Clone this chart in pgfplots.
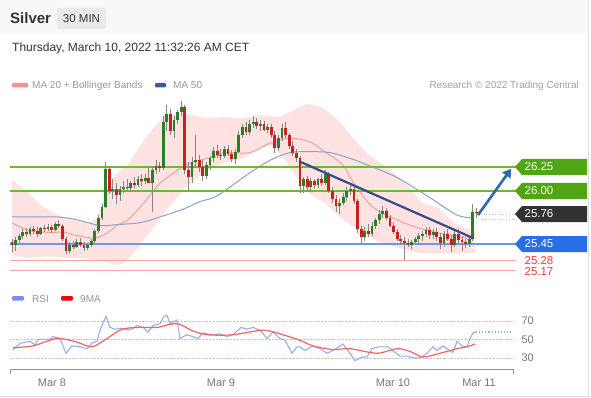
\documentclass[border=0pt]{standalone}
\usepackage{fontspec}
\setmainfont{Liberation Sans}
\usepackage{pgfplots}
\usepackage{pgfplotstable}
\pgfplotsset{compat=1.18}
\usetikzlibrary{arrows.meta}

\definecolor{txtdark}{RGB}{51,51,51}
\definecolor{txtgray}{RGB}{150,150,150}
\definecolor{ticktxt}{RGB}{120,120,120}
\definecolor{headbg}{RGB}{248,248,248}
\definecolor{chipbg}{RGB}{234,234,234}
\definecolor{bandfill}{RGB}{255,226,226}
\definecolor{ma20}{RGB}{245,160,160}
\definecolor{ma50}{RGB}{140,160,205}
\definecolor{lgreen}{RGB}{110,185,50}
\definecolor{bgreen}{RGB}{80,165,20}
\definecolor{lblue}{RGB}{110,150,240}
\definecolor{bblue}{RGB}{40,110,230}
\definecolor{lred}{RGB}{245,165,165}
\definecolor{tred}{RGB}{240,60,60}
\definecolor{bdark}{RGB}{50,50,50}
\definecolor{cgreen}{RGB}{45,125,40}
\definecolor{cred}{RGB}{205,30,30}
\definecolor{wick}{RGB}{135,135,135}
\definecolor{trend}{RGB}{55,75,140}
\definecolor{arrowblue}{RGB}{45,105,175}
\definecolor{rsiblue}{RGB}{150,175,240}
\definecolor{rsired}{RGB}{240,100,100}
\definecolor{legblue}{RGB}{60,90,155}
\definecolor{axgray}{RGB}{150,150,150}
\definecolor{gridgray}{RGB}{200,200,200}

\newcommand{\pricebox}[3]{%
  \fill[#1] (515pt,#2) -- ++(7pt,8pt) -- ++(65pt,0pt) -- ++(0pt,-16pt) -- ++(-65pt,0pt) -- cycle;
  \node[text=white, inner sep=0, font=\fontsize{11.5}{13}\selectfont] at (539pt,#2) {#3};}

\pgfplotstableread{
i o h l c
0 25.47 25.50 25.36 25.44
1 25.44 25.52 25.38 25.49
2 25.49 25.55 25.45 25.53
3 25.53 25.60 25.50 25.57
4 25.57 25.61 25.52 25.55
5 25.55 25.63 25.53 25.60
6 25.60 25.64 25.55 25.58
7 25.58 25.62 25.52 25.55
8 25.55 25.63 25.54 25.61
9 25.61 25.65 25.57 25.60
10 25.60 25.66 25.58 25.63
11 25.63 25.65 25.56 25.59
12 25.59 25.68 25.58 25.66
13 25.66 25.70 25.61 25.64
14 25.64 25.66 25.48 25.50
15 25.50 25.52 25.34 25.38
16 25.38 25.47 25.35 25.44
17 25.44 25.48 25.40 25.42
18 25.42 25.50 25.41 25.47
19 25.47 25.51 25.42 25.44
20 25.44 25.47 25.38 25.41
21 25.41 25.46 25.39 25.44
22 25.44 25.50 25.42 25.48
23 25.48 25.60 25.46 25.58
24 25.58 25.75 25.56 25.72
25 25.72 25.86 25.70 25.83
26 25.83 26.30 25.82 26.23
27 26.23 26.26 25.97 26.00
28 26.00 26.12 25.92 26.02
29 26.02 26.08 25.86 25.96
30 25.96 26.05 25.90 26.02
31 26.02 26.10 25.98 26.04
32 26.04 26.12 26.00 26.03
33 26.03 26.10 25.99 26.08
34 26.08 26.15 26.03 26.06
35 26.06 26.16 26.04 26.13
36 26.13 26.18 26.05 26.10
37 26.10 26.18 26.07 26.14
38 26.14 26.24 26.10 26.08
39 26.08 26.26 25.78 26.22
40 26.22 26.32 26.18 26.26
41 26.26 26.30 26.20 26.24
42 26.24 26.78 26.22 26.72
43 26.72 26.90 26.62 26.80
44 26.80 26.85 26.58 26.62
45 26.62 26.78 26.55 26.74
46 26.74 26.84 26.70 26.82
47 26.82 26.94 26.78 26.88
48 26.88 26.90 26.18 26.22
49 26.22 26.30 26.00 26.15
50 26.15 26.35 26.08 26.30
51 26.30 26.58 26.24 26.32
52 26.32 26.38 26.20 26.25
53 26.25 26.32 26.10 26.16
54 26.16 26.30 26.12 26.27
55 26.27 26.36 26.22 26.34
56 26.34 26.46 26.30 26.42
57 26.42 26.48 26.34 26.38
58 26.38 26.44 26.32 26.36
59 26.36 26.47 26.34 26.44
60 26.44 26.48 26.36 26.39
61 26.39 26.43 26.30 26.33
62 26.33 26.44 26.28 26.41
63 26.41 26.62 26.40 26.58
64 26.58 26.70 26.55 26.67
65 26.67 26.72 26.58 26.61
66 26.61 26.74 26.58 26.70
67 26.70 26.78 26.66 26.72
68 26.72 26.76 26.65 26.68
69 26.68 26.74 26.62 26.70
70 26.70 26.73 26.62 26.64
71 26.64 26.70 26.60 26.67
72 26.67 26.70 26.55 26.58
73 26.58 26.62 26.40 26.45
74 26.45 26.58 26.42 26.55
75 26.55 26.70 26.52 26.66
76 26.66 26.72 26.55 26.58
77 26.58 26.60 26.44 26.47
78 26.47 26.52 26.36 26.40
79 26.40 26.44 26.30 26.34
80 26.34 26.36 25.98 26.05
81 26.05 26.15 25.98 26.12
82 26.12 26.16 26.00 26.04
83 26.04 26.14 26.00 26.10
84 26.10 26.13 26.02 26.06
85 26.06 26.14 26.03 26.12
86 26.12 26.18 26.05 26.08
87 26.08 26.22 26.06 26.18
88 26.18 26.20 25.98 26.00
89 26.00 26.04 25.88 25.92
90 25.92 25.96 25.78 25.84
91 25.84 25.92 25.76 25.88
92 25.88 25.98 25.85 25.94
93 25.94 26.04 25.90 26.00
94 26.00 26.08 25.96 26.02
95 26.02 26.04 25.86 25.90
96 25.90 25.92 25.56 25.60
97 25.60 25.64 25.44 25.52
98 25.52 25.62 25.48 25.58
99 25.58 25.66 25.52 25.55
100 25.55 25.68 25.53 25.64
101 25.64 25.72 25.60 25.70
102 25.70 25.80 25.66 25.76
103 25.76 25.84 25.72 25.79
104 25.79 25.82 25.70 25.72
105 25.72 25.75 25.62 25.64
106 25.64 25.68 25.55 25.57
107 25.57 25.60 25.48 25.50
108 25.50 25.54 25.44 25.48
109 25.48 25.52 25.28 25.46
110 25.46 25.50 25.42 25.44
111 25.44 25.49 25.40 25.47
112 25.47 25.52 25.44 25.50
113 25.50 25.56 25.46 25.53
114 25.53 25.58 25.48 25.55
115 25.55 25.62 25.52 25.59
116 25.59 25.63 25.50 25.54
117 25.54 25.60 25.50 25.57
118 25.57 25.61 25.48 25.52
119 25.52 25.56 25.40 25.46
120 25.46 25.58 25.42 25.55
121 25.55 25.60 25.48 25.50
122 25.50 25.54 25.36 25.44
123 25.44 25.58 25.42 25.55
124 25.55 25.60 25.46 25.49
125 25.49 25.53 25.38 25.47
126 25.47 25.50 25.41 25.45
127 25.45 25.52 25.42 25.50
128 25.50 25.86 25.48 25.78
129 25.78 25.82 25.72 25.77
}\candles

\begin{document}
\begin{tikzpicture}
\useasboundingbox (0,0) rectangle (591pt,-398pt);
\fill[white] (0,0) rectangle (591pt,-398pt);
\fill[headbg] (0,0) rectangle (588pt,-33pt);
\draw[gridgray!60, line width=0.8pt] (588pt,0) -- (588pt,-398pt);
\draw[gridgray!60, line width=0.8pt] (0,-396.5pt) -- (588pt,-396.5pt);

% header
\node[anchor=base west, inner sep=0, text=txtdark, font=\fontsize{15}{18}\selectfont\bfseries] at (10pt,-24pt) {Silver};
\fill[chipbg, rounded corners=1.5pt] (57pt,-8pt) rectangle (106pt,-29pt);
\node[inner sep=0, text=txtdark, font=\fontsize{11.5}{14}\selectfont] at (81.5pt,-18.5pt) {30 MIN};
\node[anchor=base west, inner sep=0, text=txtdark, font=\fontsize{12}{15}\selectfont] at (12pt,-52pt) {Thursday, March 10, 2022 11:32:26 AM CET};

% legends
\fill[ma20!90!red, rounded corners=1.2pt] (12pt,-83pt) rectangle (28pt,-87.5pt);
\node[anchor=base west, inner sep=0, text=txtgray, font=\fontsize{10}{12}\selectfont] at (32pt,-89pt) {MA 20 + Bollinger Bands};
\fill[legblue, rounded corners=1.2pt] (155pt,-83pt) rectangle (166pt,-87.5pt);
\node[anchor=base west, inner sep=0, text=txtgray, font=\fontsize{10}{12}\selectfont] at (173pt,-89pt) {MA 50};
\node[anchor=base east, inner sep=0, text=txtgray!90, font=\fontsize{10}{12}\selectfont] at (579pt,-89pt) {Research © 2022 Trading Central};

\fill[rsiblue!80!blue, rounded corners=1.2pt] (12pt,-296pt) rectangle (24pt,-300.5pt);
\node[anchor=base west, inner sep=0, text=txtgray, font=\fontsize{10}{12}\selectfont] at (32pt,-302pt) {RSI};
\fill[red, rounded corners=1.2pt] (61pt,-296pt) rectangle (73pt,-300.5pt);
\node[anchor=base west, inner sep=0, text=txtgray, font=\fontsize{10}{12}\selectfont] at (80pt,-302pt) {9MA};

% main price chart
\begin{axis}[
  at={(10pt,-275pt)}, anchor=south west, scale only axis,
  width=503pt, height=181.9pt,
  xmin=10, xmax=513, ymin=25.125, ymax=27.02,
  hide axis, clip=false]
% Bollinger band
\addplot[fill=bandfill, draw=none] coordinates {
(12,26.12) (28,25.99) (41,25.85) (58,25.75) (71,25.70) (88,25.67) (98,25.72) (105,25.96) (115,26.17) (128,26.27) (145,26.55) (165,26.79) (185,26.81) (205,26.76) (225,26.77) (245,26.76) (260,26.79) (280,26.77) (293,26.84) (307,26.91) (323,26.87) (340,26.72) (355,26.53) (368,26.38) (388,26.24) (405,26.09) (422,25.88) (438,25.82) (457,25.65) (475,25.57)
(475,25.36) (455,25.35) (422,25.35) (405,25.39) (388,25.44) (375,25.49) (360,25.59) (350,25.65) (340,25.73) (327,25.86) (307,25.99) (297,26.14) (287,26.30) (273,26.47) (260,26.45) (245,26.35) (225,26.30) (205,26.20) (185,26.03) (168,25.82) (158,25.68) (145,25.51) (135,25.37) (125,25.26) (118,25.23) (105,25.26) (85,25.30) (70,25.30) (48,25.32) (28,25.30) (12,25.33)
} -- cycle;
% MA 20
\addplot[ma20, line width=1pt, smooth, tension=0.5] coordinates {
(12,25.67) (28,25.59) (48,25.57) (65,25.57) (75,25.54) (95,25.51) (108,25.57) (118,25.65) (128,25.70) (145,25.89) (158,26.06) (175,26.20) (192,26.30) (212,26.35) (225,26.40) (250,26.40) (270,26.50) (290,26.55) (310,26.51) (330,26.37) (343,26.27) (355,26.06) (373,25.83) (397,25.70) (417,25.62) (440,25.56) (463,25.52) (473,25.49)};
% MA 50
\addplot[ma50, line width=1pt, smooth, tension=0.5] coordinates {
(12,25.73) (57,25.73) (77,25.70) (100,25.64) (117,25.65) (140,25.67) (157,25.72) (183,25.81) (200,25.89) (217,25.95) (250,26.19) (270,26.32) (290,26.40) (310,26.41) (330,26.40) (350,26.34) (363,26.29) (397,26.14) (430,25.93) (457,25.75) (473,25.72)};
% horizontal levels
\addplot[lgreen, line width=2.3pt] coordinates {(10,26.25) (516,26.25)};
\addplot[lgreen, line width=2.3pt] coordinates {(10,26.00) (516,26.00)};
\addplot[lblue, line width=1.4pt] coordinates {(10,25.45) (516,25.45)};
\addplot[lred, line width=1pt] coordinates {(10,25.28) (516,25.28)};
\addplot[lred, line width=1pt] coordinates {(10,25.17) (516,25.17)};
\addplot[gridgray, dotted, line width=0.8pt] coordinates {(478,25.76) (516,25.76)};
\addplot[gridgray, dotted, line width=0.8pt] coordinates {(478,25.70) (516,25.70)};
% candles: wicks
\addplot[draw=none, mark=none,
  error bars/.cd, y dir=plus, y explicit, error mark=none,
  error bar style={draw=wick, solid, line width=0.8pt}]
  table[x expr=12+3.6*\thisrow{i}, y=l, y error expr=\thisrow{h}-\thisrow{l}] {\candles};
% up bodies
\addplot[draw=none, mark=none,
  restrict expr to domain={\thisrow{c}-\thisrow{o}}{0:5},
  error bars/.cd, y dir=plus, y explicit, error mark=none,
  error bar style={draw=cgreen, solid, line width=2.8pt}]
  table[x expr=12+3.6*\thisrow{i}, y=o, y error expr={max(\thisrow{c}-\thisrow{o},0.015)}] {\candles};
% down bodies
\addplot[draw=none, mark=none,
  restrict expr to domain={\thisrow{o}-\thisrow{c}}{0.000001:5},
  error bars/.cd, y dir=plus, y explicit, error mark=none,
  error bar style={draw=cred, solid, line width=2.8pt}]
  table[x expr=12+3.6*\thisrow{i}, y=c, y error expr={max(\thisrow{o}-\thisrow{c},0.015)}] {\candles};
% trend line and arrow
\addplot[trend, line width=2.2pt] coordinates {(299,26.31) (473,25.51)};
\addplot[arrowblue, line width=2.6pt, -{Triangle[length=8pt,width=10pt]}] coordinates {(478,25.75) (511,26.23)};
\end{axis}

% price labels (y positions of 26.25, 26.00, 25.76, 25.45 on the price scale)
\pricebox{bgreen}{-167pt}{26.25}
\pricebox{bgreen}{-191pt}{26.00}
\pricebox{bdark}{-214pt}{25.76}
\pricebox{bblue}{-244pt}{25.45}
\node[text=tred, inner sep=0, font=\fontsize{11.5}{13}\selectfont] at (539pt,-261pt) {25.28};
\node[text=tred, inner sep=0, font=\fontsize{11.5}{13}\selectfont] at (539pt,-272pt) {25.17};

% RSI panel
\begin{axis}[
  at={(10pt,-369pt)}, anchor=south west, scale only axis,
  width=503pt, height=68.45pt,
  xmin=10, xmax=513, ymin=18, ymax=92,
  clip=false,
  axis x line*=bottom, axis y line*=right,
  x axis line style={draw=axgray, line width=1pt, -},
  y axis line style={draw=none},
  xtick={52,221,393,479}, xticklabels={Mar 8,Mar 9,Mar 10,Mar 11},
  ytick={30,50,70}, yticklabel pos=right,
  major tick length=0pt,
  ymajorgrids, grid style={gridgray, densely dotted, line width=0.8pt},
  /pgf/number format/assume math mode=true,
  tick label style={text=ticktxt, font=\fontsize{11}{13}\selectfont},
  xticklabel style={yshift=-6pt},
  yticklabel style={xshift=5pt}]
\addplot[rsiblue, line width=1.1pt] coordinates {
(13,39) (20,45.7) (30,48) (35,44) (38,50) (50,50) (53,53) (60,51) (66,35) (72,43) (80,42) (87,40) (92,46) (97,48) (100,60) (106,75) (110,63) (115,61) (122,62) (128,60) (133,62) (137,65) (143,63) (148,58) (153,65) (160,67) (164,75) (167,76) (170,67) (177,71) (180,51) (187,55) (193,53) (198,51) (203,57) (210,55) (220,56) (227,53) (233,55) (241,63) (247,61) (253,63) (260,60) (267,51) (273,58) (280,51) (285,49) (292,35) (297,42) (300,42) (305,38) (313,43) (320,40) (327,35) (333,38) (343,45) (348,38) (355,27) (362,31) (367,31) (372,40) (378,42) (388,42) (395,36) (400,32) (407,32) (413,30) (420,30) (427,35) (433,42) (437,38) (443,43) (448,39) (453,36) (457,48) (462,43) (467,42) (470,51) (473,57) (476,58)};
\addplot[rsiblue, dotted, line width=1.1pt] coordinates {(476,58) (513,58)};
\addplot[rsired, line width=1.2pt, smooth, tension=0.5] coordinates {
(13,41) (33,43) (57,51) (77,47) (92,42) (107,51) (122,61) (140,63) (157,63) (177,67) (193,59) (208,55) (233,55) (263,60) (283,55) (300,49) (313,43) (333,39) (350,40) (377,35) (397,40) (410,37) (423,31) (440,35) (457,40) (467,42) (475,45)};
\end{axis}
\draw[axgray, line width=1pt] (10pt,-369pt) -- (10pt,-374pt);
\draw[axgray, line width=1pt] (513pt,-369pt) -- (513pt,-374pt);
\end{tikzpicture}
\end{document}
